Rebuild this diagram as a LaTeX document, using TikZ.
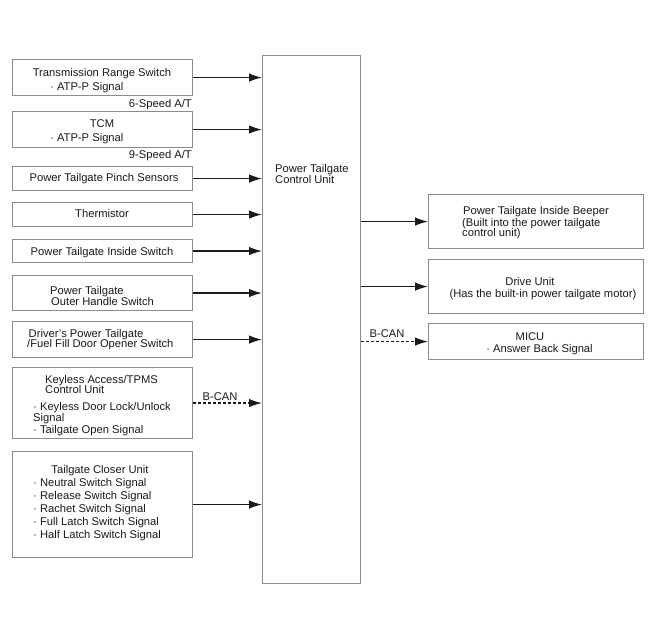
\documentclass[tikz,border=0pt]{standalone}
\usepackage{fontspec}
\setmainfont{Liberation Sans}
\usetikzlibrary{arrows.meta}
\definecolor{boxgray}{HTML}{8C8C8C}
\definecolor{arrgray}{HTML}{1A1A1A}
\newcommand{\fsz}{\fontsize{11.2}{13}\selectfont}
\tikzset{
  box/.style={draw=boxgray, line width=1.1pt, inner sep=0pt, anchor=north west},
  txt/.style={inner sep=0pt, anchor=base west, font=\fsz, text=black!90},
  ctxt/.style={inner sep=0pt, anchor=base, font=\fsz, text=black!90},
  rtxt/.style={inner sep=0pt, anchor=base east, font=\fsz, text=black!90},
  arr/.style={-{Latex[length=13pt,width=8.5pt]}, line width=1.4pt, draw=arrgray},
  darr/.style={arr, dash pattern=on 3pt off 2pt},
}
\begin{document}
\begin{tikzpicture}[x=1pt,y=-1pt]
\useasboundingbox (0,0) rectangle (654,630);
% control unit
\node[box, minimum width=98pt, minimum height=528pt] (cu) at (262,55) {};
\node[txt] (cut1) at (275,172) {Power Tailgate};
\node[txt] (cut2) at (275,183) {Control Unit};
% left boxes
\node[box, minimum width=180pt, minimum height=36pt] (b1) at (12,59) {};
\node[ctxt] (b1t1) at (102,76) {Transmission Range Switch};
\node[txt] (b1t2) at (50,90) {· ATP-P Signal};
\node[rtxt] (l6) at (192,107) {6-Speed A/T};
\node[box, minimum width=180pt, minimum height=36pt] (b2) at (12,111) {};
\node[ctxt] (b2t1) at (102,127) {TCM};
\node[txt] (b2t2) at (50,141) {· ATP-P Signal};
\node[rtxt] (l9) at (192,158) {9-Speed A/T};
\node[box, minimum width=180pt, minimum height=24pt] (b3) at (12,166) {};
\node[ctxt] (b3t1) at (104,181.5) {Power Tailgate Pinch Sensors};
\node[box, minimum width=180pt, minimum height=24pt] (b4) at (12,202) {};
\node[ctxt] (b4t1) at (102,217.5) {Thermistor};
\node[box, minimum width=180pt, minimum height=23pt] (b5) at (12,239) {};
\node[ctxt] (b5t1) at (102,255) {Power Tailgate Inside Switch};
\node[box, minimum width=180pt, minimum height=35pt] (b6) at (12,275) {};
\node[txt] (b6t1) at (50,294.5) {Power Tailgate};
\node[txt] (b6t2) at (51,305) {Outer Handle Switch};
\node[box, minimum width=180pt, minimum height=36pt] (b7) at (12,321) {};
\node[txt] (b7t1) at (28.5,337.5) {Driver's Power Tailgate};
\node[txt] (b7t2) at (27,347.5) {/Fuel Fill Door Opener Switch};
\node[box, minimum width=180pt, minimum height=71pt] (b8) at (12,367) {};
\node[txt] (b8t1) at (45,383) {Keyless Access/TPMS};
\node[txt] (b8t2) at (45,393.5) {Control Unit};
\node[txt] (b8t3) at (33,410) {· Keyless Door Lock/Unlock};
\node[txt] (b8t4) at (33,421) {Signal};
\node[txt] (b8t5) at (33,433.5) {· Tailgate Open Signal};
\node[box, minimum width=180pt, minimum height=106pt] (b9) at (12,451) {};
\node[ctxt] (b9t1) at (100,473) {Tailgate Closer Unit};
\node[txt] (b9t2) at (33,486.5) {· Neutral Switch Signal};
\node[txt] (b9t3) at (33,499.5) {· Release Switch Signal};
\node[txt] (b9t4) at (33,512.5) {· Rachet Switch Signal};
\node[txt] (b9t5) at (33,525.5) {· Full Latch Switch Signal};
\node[txt] (b9t6) at (33,538.5) {· Half Latch Switch Signal};
% right boxes
\node[box, minimum width=215pt, minimum height=54pt] (r1) at (428,194) {};
\node[txt] (r1t1) at (463,214.5) {Power Tailgate Inside Beeper};
\node[txt] (r1t2) at (462,226) {(Built into the power tailgate};
\node[txt] (r1t3) at (462,236.5) {control unit)};
\node[box, minimum width=215pt, minimum height=54pt] (r2) at (428,259) {};
\node[ctxt] (r2t1) at (530,285.5) {Drive Unit};
\node[ctxt] (r2t2) at (543,297) {(Has the built-in power tailgate motor)};
\node[box, minimum width=215pt, minimum height=36pt] (r3) at (428,323) {};
\node[ctxt] (r3t1) at (530,340) {MICU};
\node[ctxt] (r3t2) at (539.5,352) {· Answer Back Signal};
% connectors
\foreach \b in {b1,b2,b3,b4,b5,b6,b7,b9}
  \draw[arr] (\b.east) -- (\b.east -| cu.west);
\draw[darr] (b8.east) -- (b8.east -| cu.west);
\node[ctxt] (bc1) at (220,400) {B-CAN};
\draw[arr] (cu.east |- r1.west) -- (r1.west);
\draw[arr] (cu.east |- r2.west) -- (r2.west);
\draw[darr] (cu.east |- r3.west) -- (r3.west);
\node[ctxt] (bc2) at (387,337.5) {B-CAN};
\end{tikzpicture}
\end{document}
